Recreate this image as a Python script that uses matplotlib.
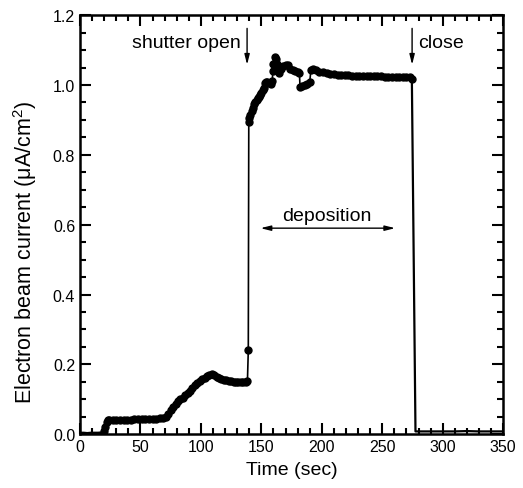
import matplotlib
matplotlib.use("Agg")
import matplotlib.pyplot as plt
from matplotlib.ticker import MultipleLocator

plt.rcParams['font.family'] = ['Liberation Sans', 'DejaVu Sans']
plt.rcParams['mathtext.fontset'] = 'custom'
plt.rcParams['mathtext.rm'] = 'Liberation Sans'

# values: time (sec) and current (uA/cm^2)
t_pre = [0, 3, 6, 9, 12, 15, 18, 20]
i_pre = [0.003, 0.003, 0.002, 0.003, 0.003, 0.003, 0.004, 0.008]

t_main = [20, 21, 22, 23, 24, 27, 30, 33, 36, 39, 42, 45, 48, 51, 54, 57, 60, 63, 66, 69,
          71, 73, 75, 77, 79, 81, 83, 85, 87, 89, 91, 93, 95, 97, 99, 101, 103, 105, 107, 109,
          111, 113, 115, 117, 119, 121, 123, 125, 127, 129, 131, 133, 135, 137, 138.5,
          139.2, 139.6,
          140, 141, 142, 143, 144, 145, 146, 147, 148, 149, 150, 151, 152, 153, 154, 155, 156,
          157, 158, 159, 159.5, 160, 161, 162, 163, 164, 165, 166, 168, 170, 172, 174, 176, 178,
          180, 181.5, 182, 184, 186, 188, 190, 191, 193, 195, 198, 201, 204, 207, 210, 213, 216,
          219, 222, 225, 228, 231, 234, 237, 240, 243, 246, 249, 252, 255, 258, 261, 264, 267,
          270, 273, 274.5]
i_main = [0.008, 0.02, 0.035, 0.040, 0.040, 0.041, 0.041, 0.041, 0.042, 0.042, 0.042, 0.043,
          0.043, 0.043, 0.043, 0.044, 0.044, 0.044, 0.045, 0.046,
          0.050, 0.058, 0.068, 0.077, 0.087, 0.094, 0.100, 0.105, 0.112, 0.118, 0.124, 0.133,
          0.141, 0.148, 0.153, 0.158, 0.162, 0.166, 0.169, 0.171,
          0.169, 0.165, 0.161, 0.158, 0.156, 0.154, 0.152, 0.151, 0.150, 0.150, 0.150, 0.149,
          0.150, 0.150, 0.153,
          0.24, 0.893,
          0.905, 0.915, 0.925, 0.935, 0.945, 0.952, 0.958, 0.962, 0.966, 0.972, 0.978, 0.985,
          0.990, 1.005, 1.008, 1.008, 1.006, 1.005, 1.004, 1.010, 1.040, 1.060, 1.080, 1.075,
          1.060, 1.045, 1.035, 1.045, 1.055, 1.058, 1.056, 1.045, 1.042, 1.040,
          1.038, 1.035, 0.993, 0.996, 1.000, 1.004, 1.008, 1.043, 1.045, 1.042, 1.038, 1.036,
          1.034, 1.032, 1.031, 1.030, 1.029, 1.028, 1.028, 1.027, 1.027, 1.026, 1.026, 1.026,
          1.025, 1.025, 1.025, 1.025, 1.024, 1.024, 1.024, 1.024, 1.024, 1.024, 1.023, 1.022,
          1.018]

t_post = [274.5, 277.5, 280, 290, 300, 310, 320, 330, 340, 350]
i_post = [1.018, 0.008, 0.008, 0.008, 0.008, 0.008, 0.009, 0.008, 0.008, 0.008]

fig = plt.figure(figsize=(5.23, 4.89), dpi=100)
ax = fig.add_axes([0.153, 0.110, 0.809, 0.857])

ax.plot(t_pre, i_pre, color='black', lw=2.2)
ax.plot(t_post, i_post, color='black', lw=1.6)
ax.plot(t_main, i_main, color='black', lw=1.2, marker='o', ms=5)

ax.set_xlim(0, 350)
ax.set_ylim(0, 1.2)
ax.xaxis.set_major_locator(MultipleLocator(50))
ax.xaxis.set_minor_locator(MultipleLocator(10))
ax.yaxis.set_major_locator(MultipleLocator(0.2))
ax.yaxis.set_minor_locator(MultipleLocator(0.05))
ax.yaxis.set_major_formatter(plt.FormatStrFormatter('%.1f'))
ax.tick_params(which='both', direction='in', top=True, right=True, width=1.5, labelsize=11.5)
ax.tick_params(which='major', length=8)
ax.tick_params(which='minor', length=4)
for s in ax.spines.values():
    s.set_linewidth(1.8)

ax.set_xlabel('Time (sec)', fontsize=14, labelpad=5)
ax.set_ylabel('Electron beam current (\u03bcA/cm$^2$)', fontsize=15.5)
ax.yaxis.set_label_coords(-0.098, 0.435)

arrow = dict(arrowstyle='-|>,head_width=0.15,head_length=0.6', color='black', lw=1)
ax.annotate('', xy=(138.2, 1.05), xytext=(138.2, 1.17), arrowprops=arrow)
ax.annotate('', xy=(274.7, 1.05), xytext=(274.7, 1.17), arrowprops=arrow)
ax.text(133, 1.122, 'shutter open', fontsize=14, ha='right', va='center')
ax.text(280, 1.122, 'close', fontsize=14, ha='left', va='center')
ax.annotate('', xy=(147, 0.59), xytext=(263, 0.59),
            arrowprops=dict(arrowstyle='<|-|>,head_width=0.15,head_length=0.6', color='black', lw=1))
ax.text(204.5, 0.625, 'deposition', fontsize=14, ha='center', va='center')

fig.savefig('out.png', dpi=100)
